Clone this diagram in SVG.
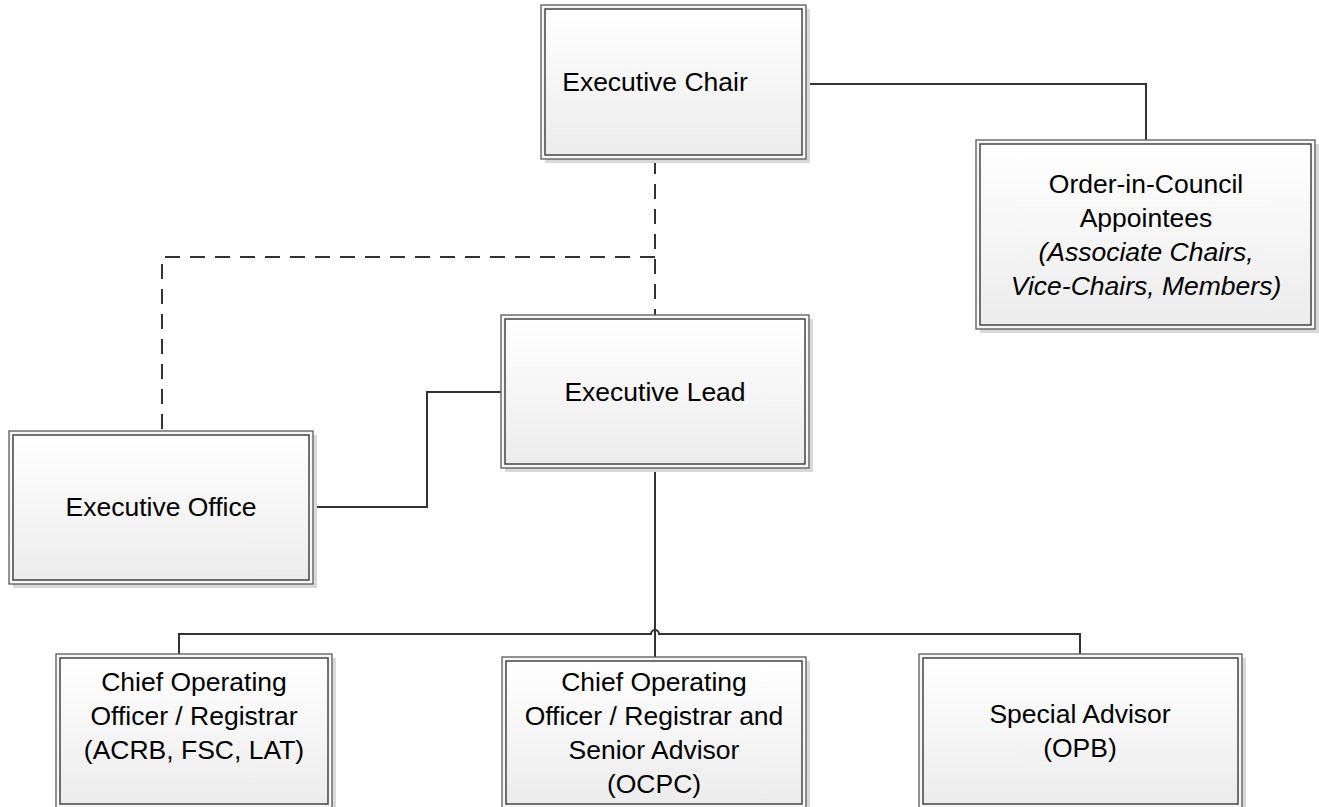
<svg xmlns="http://www.w3.org/2000/svg" width="1319" height="807" viewBox="0 0 1319 807">
<defs>
<linearGradient id="g" x1="0" y1="0" x2="0" y2="1">
<stop offset="0" stop-color="#ffffff"/>
<stop offset="1" stop-color="#ececec"/>
</linearGradient>
<style>
.sh{fill:#d9d9d9}
.o{fill:#f7f7f7;stroke:#5a5a5a;stroke-width:1.3}
.i{fill:url(#g);stroke:#444;stroke-width:1.5}
.t{font-family:"Liberation Sans",Arial,sans-serif;font-size:26.5px;fill:#000;text-anchor:middle}
.it{font-style:italic}
.c{fill:none;stroke:#333;stroke-width:2}
.d{stroke-dasharray:15 10}
</style>
</defs>
<rect width="1319" height="807" fill="#fff"/>
<g id="connectors">
<path class="c" d="M806,84 H1146 V140"/>
<path class="c" d="M313,507 H427 V392 H501"/>
<path class="c" d="M655,468 V657"/>
<path class="c" d="M179,654 V634 H651 a4,4 0 0 1 8,0 H1080 V654"/>
<path class="c d" d="M655,159 V315"/>
<path class="c d" d="M655,257 H162 V431"/>
</g>
<g id="executive-chair">
<rect class="sh" x="545" y="9" width="265" height="154"/>
<rect class="o" x="541" y="5" width="265" height="154"/>
<rect class="i" x="545" y="9" width="257" height="146"/>
<text class="t" x="655" y="91">Executive Chair</text>
</g>
<g id="order-in-council">
<rect class="sh" x="980" y="144" width="339" height="189"/>
<rect class="o" x="976" y="140" width="339" height="189"/>
<rect class="i" x="980" y="144" width="331" height="181"/>
<text class="t" x="1146" y="193">Order-in-Council</text>
<text class="t" x="1146" y="227">Appointees</text>
<text class="t it" x="1146" y="261">(Associate Chairs,</text>
<text class="t it" x="1146" y="295">Vice-Chairs, Members)</text>
</g>
<g id="executive-lead">
<rect class="sh" x="505" y="319" width="308" height="153"/>
<rect class="o" x="501" y="315" width="308" height="153"/>
<rect class="i" x="505" y="319" width="300" height="145"/>
<text class="t" x="655" y="401">Executive Lead</text>
</g>
<g id="executive-office">
<rect class="sh" x="13" y="435" width="304" height="153"/>
<rect class="o" x="9" y="431" width="304" height="153"/>
<rect class="i" x="13" y="435" width="296" height="145"/>
<text class="t" x="161" y="516">Executive Office</text>
</g>
<g id="coo-registrar">
<rect class="sh" x="60" y="658" width="276" height="154"/>
<rect class="o" x="56" y="654" width="276" height="154"/>
<rect class="i" x="60" y="658" width="268" height="146"/>
<text class="t" x="194" y="691">Chief Operating</text>
<text class="t" x="194" y="725">Officer / Registrar</text>
<text class="t" x="194" y="759">(ACRB, FSC, LAT)</text>
</g>
<g id="coo-senior-advisor">
<rect class="sh" x="506" y="661" width="304" height="151"/>
<rect class="o" x="502" y="657" width="304" height="151"/>
<rect class="i" x="506" y="661" width="296" height="143"/>
<text class="t" x="654" y="691">Chief Operating</text>
<text class="t" x="654" y="725">Officer / Registrar and</text>
<text class="t" x="654" y="759">Senior Advisor</text>
<text class="t" x="654" y="793">(OCPC)</text>
</g>
<g id="special-advisor">
<rect class="sh" x="923" y="658" width="323" height="154"/>
<rect class="o" x="919" y="654" width="323" height="154"/>
<rect class="i" x="923" y="658" width="315" height="146"/>
<text class="t" x="1080" y="723">Special Advisor</text>
<text class="t" x="1080" y="757">(OPB)</text>
</g>
</svg>
